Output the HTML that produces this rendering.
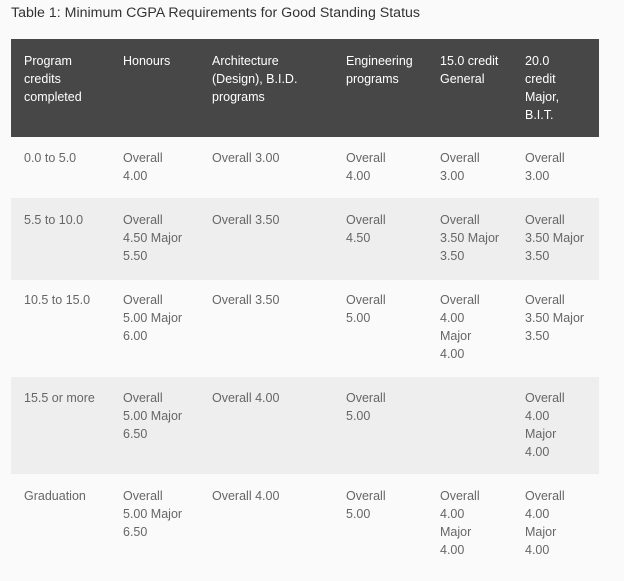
<!DOCTYPE html>
<html><head><meta charset="utf-8"><style>
html,body{margin:0;padding:0;}
body{width:624px;height:581px;background:#fafafa;position:relative;overflow:hidden;font-family:"Liberation Sans",sans-serif;}
.t{position:absolute;left:11px;top:5px;font-size:14.2px;color:#333;}
.hd{position:absolute;left:11px;top:39px;width:588px;height:98px;background:#474747;}
.g{position:absolute;left:11px;width:588px;background:#eeeeee;}
.c{position:absolute;font-size:12.5px;line-height:18px;color:#666;white-space:nowrap;}
.h{color:#fff;}
</style></head><body>
<div class="t">Table 1: Minimum CGPA Requirements for Good Standing Status</div>
<div class="hd"></div>
<div class="g" style="top:198px;height:82px"></div>
<div class="g" style="top:377px;height:97px"></div>

<div class="c h" style="left:24px;top:52px">Program<br>credits<br>completed</div>
<div class="c h" style="left:123px;top:52px">Honours</div>
<div class="c h" style="left:212px;top:52px">Architecture<br>(Design), B.I.D.<br>programs</div>
<div class="c h" style="left:346px;top:52px">Engineering<br>programs</div>
<div class="c h" style="left:440px;top:52px">15.0 credit<br>General</div>
<div class="c h" style="left:525px;top:52px">20.0<br>credit<br>Major,<br>B.I.T.</div>

<div class="c" style="left:24px;top:149px">0.0 to 5.0</div>
<div class="c" style="left:123px;top:149px">Overall<br>4.00</div>
<div class="c" style="left:212px;top:149px">Overall 3.00</div>
<div class="c" style="left:346px;top:149px">Overall<br>4.00</div>
<div class="c" style="left:440px;top:149px">Overall<br>3.00</div>
<div class="c" style="left:525px;top:149px">Overall<br>3.00</div>

<div class="c" style="left:24px;top:211px">5.5 to 10.0</div>
<div class="c" style="left:123px;top:211px">Overall<br>4.50 Major<br>5.50</div>
<div class="c" style="left:212px;top:211px">Overall 3.50</div>
<div class="c" style="left:346px;top:211px">Overall<br>4.50</div>
<div class="c" style="left:440px;top:211px">Overall<br>3.50 Major<br>3.50</div>
<div class="c" style="left:525px;top:211px">Overall<br>3.50 Major<br>3.50</div>

<div class="c" style="left:24px;top:291px">10.5 to 15.0</div>
<div class="c" style="left:123px;top:291px">Overall<br>5.00 Major<br>6.00</div>
<div class="c" style="left:212px;top:291px">Overall 3.50</div>
<div class="c" style="left:346px;top:291px">Overall<br>5.00</div>
<div class="c" style="left:440px;top:291px">Overall<br>4.00<br>Major<br>4.00</div>
<div class="c" style="left:525px;top:291px">Overall<br>3.50 Major<br>3.50</div>

<div class="c" style="left:24px;top:389px">15.5 or more</div>
<div class="c" style="left:123px;top:389px">Overall<br>5.00 Major<br>6.50</div>
<div class="c" style="left:212px;top:389px">Overall 4.00</div>
<div class="c" style="left:346px;top:389px">Overall<br>5.00</div>
<div class="c" style="left:525px;top:389px">Overall<br>4.00<br>Major<br>4.00</div>

<div class="c" style="left:24px;top:487px">Graduation</div>
<div class="c" style="left:123px;top:487px">Overall<br>5.00 Major<br>6.50</div>
<div class="c" style="left:212px;top:487px">Overall 4.00</div>
<div class="c" style="left:346px;top:487px">Overall<br>5.00</div>
<div class="c" style="left:440px;top:487px">Overall<br>4.00<br>Major<br>4.00</div>
<div class="c" style="left:525px;top:487px">Overall<br>4.00<br>Major<br>4.00</div>
</body></html>
